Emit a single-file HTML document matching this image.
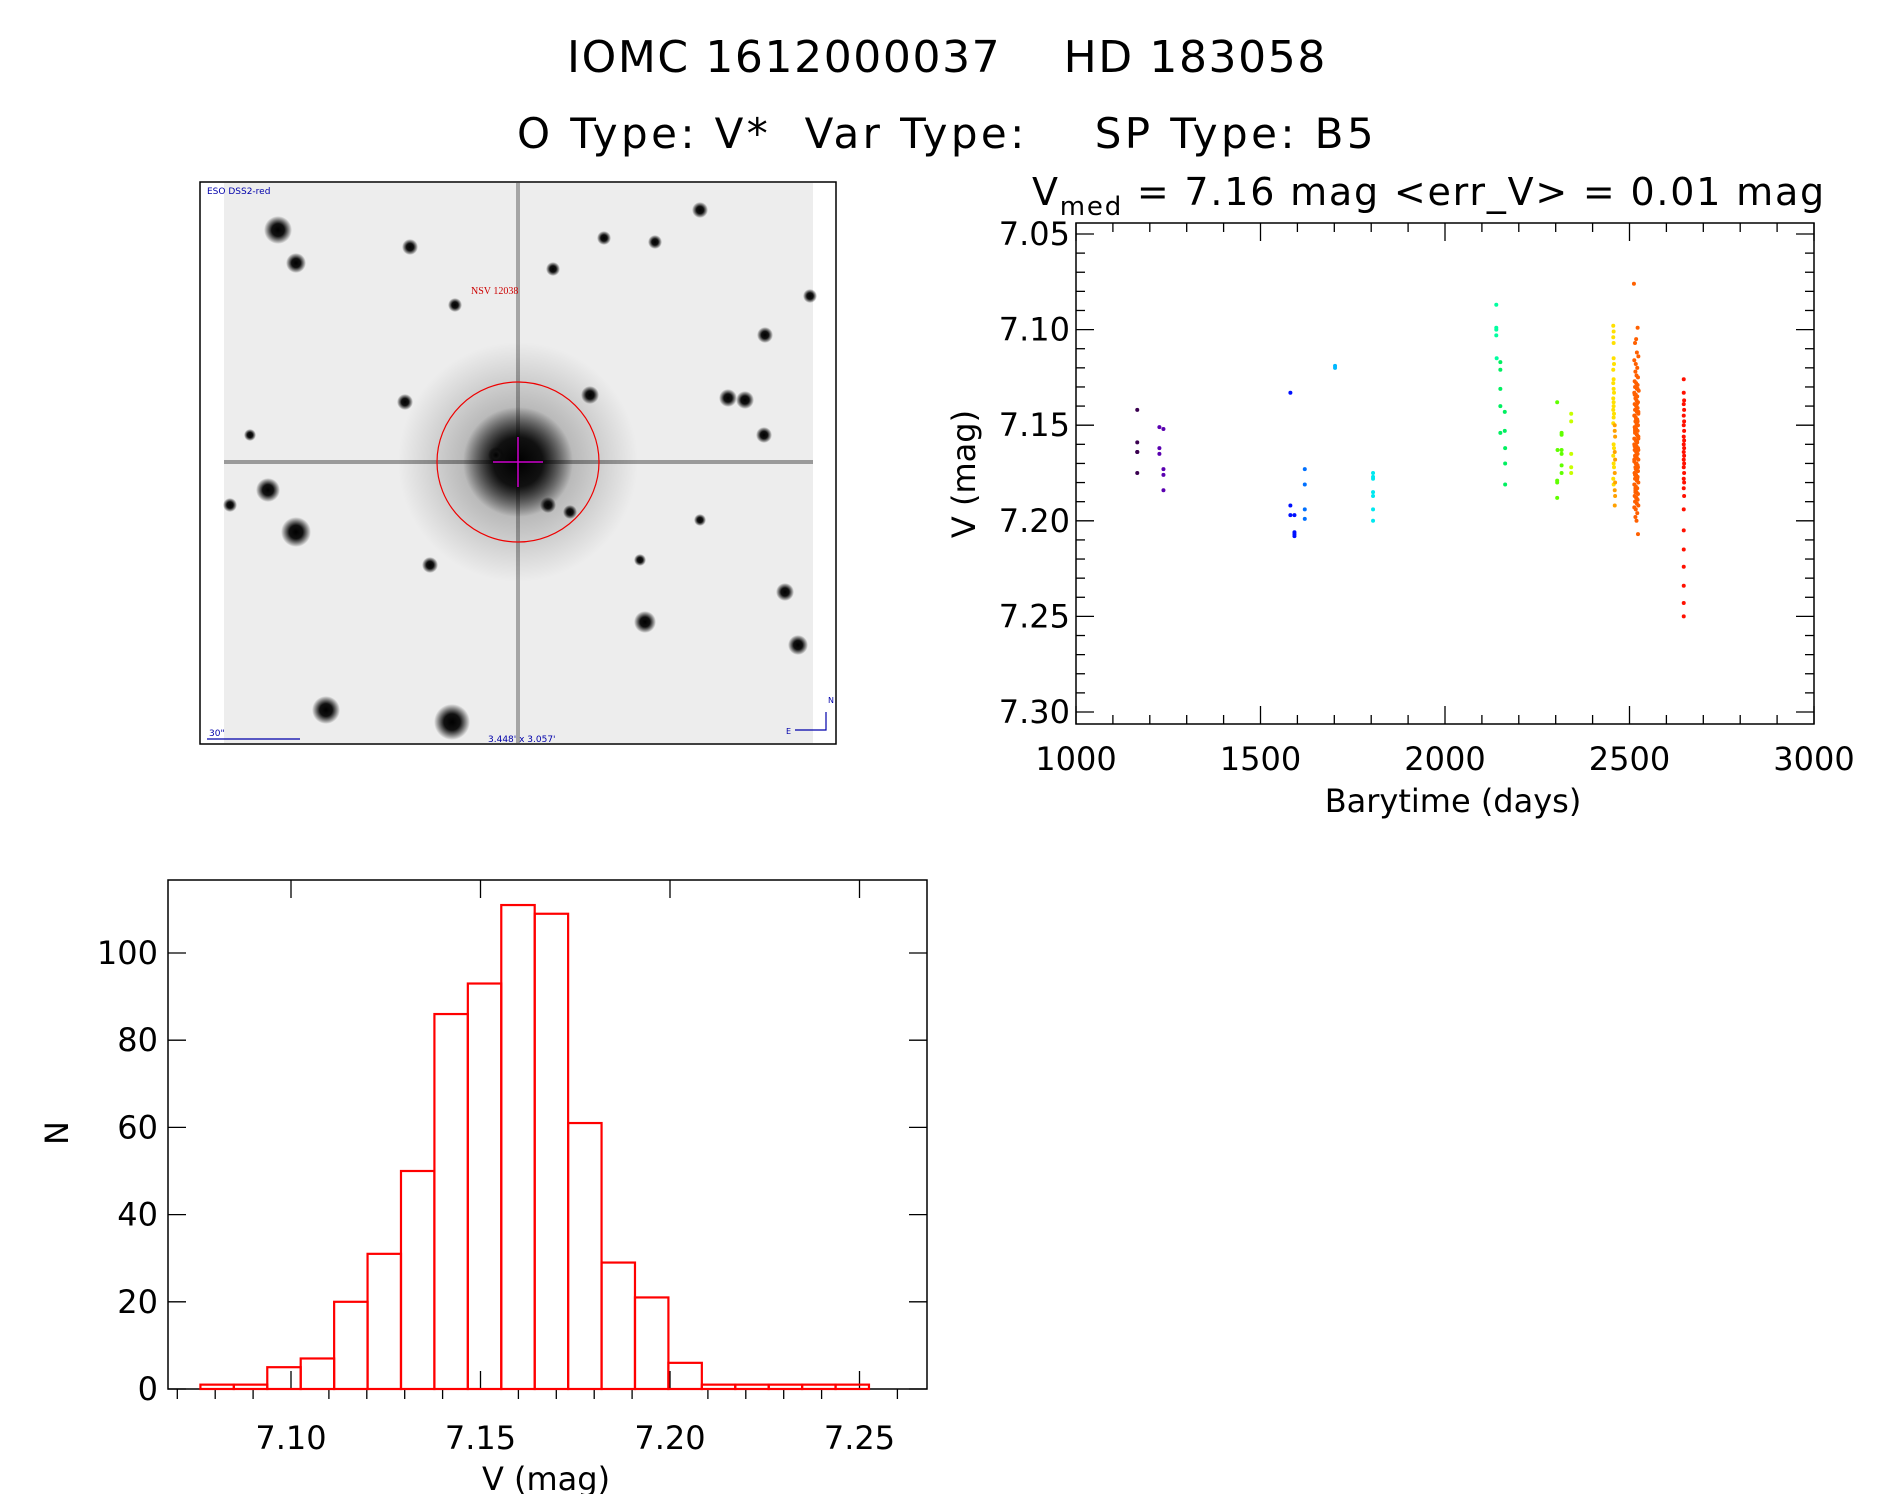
<!DOCTYPE html>
<html><head><meta charset="utf-8"><style>
body{margin:0;background:#fff;}
svg{display:block;font-family:"DejaVu Sans","Liberation Sans",sans-serif;}
</style></head><body>
<svg id="s" width="1889" height="1494" viewBox="0 0 1889 1494">
<defs>
<radialGradient id="star"><stop offset="0" stop-color="#000"/><stop offset="0.45" stop-color="#111"/><stop offset="1" stop-color="#000" stop-opacity="0"/></radialGradient>
<radialGradient id="halo"><stop offset="0" stop-color="#000" stop-opacity="0.4"/><stop offset="1" stop-color="#000" stop-opacity="0"/></radialGradient>
</defs>
<text x="947" y="72" font-size="44" text-anchor="middle" letter-spacing="1.6" xml:space="preserve">IOMC 1612000037    HD 183058</text>
<text x="947" y="148" font-size="42" text-anchor="middle" letter-spacing="3.4" xml:space="preserve">O Type: V*  Var Type:    SP Type: B5</text>
<text x="1032" y="205" font-size="38" letter-spacing="1.8" xml:space="preserve">V<tspan font-size="26" dy="10">med</tspan><tspan dy="-10"> = 7.16 mag &lt;err_V&gt; = 0.01 mag</tspan></text>

<g>
<rect x="200" y="182" width="636" height="562" fill="#fff" stroke="#000" stroke-width="1.5"/>
<rect x="224" y="183" width="589" height="560" fill="#ededed"/>
<g id="stars"></g>
<rect x="224" y="460" width="589" height="4" fill="#000" opacity="0.35"/>
<rect x="516" y="183" width="4" height="560" fill="#000" opacity="0.3"/>
<ellipse cx="518" cy="462" rx="81" ry="80" fill="none" stroke="#e00" stroke-width="1.2"/>
<line x1="493" y1="462" x2="543" y2="462" stroke="#c0c" stroke-width="1.5"/>
<line x1="518" y1="437" x2="518" y2="487" stroke="#c0c" stroke-width="1.5"/>
<text x="471" y="294" font-size="10" fill="#c00" font-family="Liberation Serif,serif">NSV 12038</text>
<text x="207" y="194" font-size="9" fill="#00a">ESO DSS2-red</text>
<text x="209" y="736" font-size="9" fill="#00a">30"</text>
<line x1="207" y1="739" x2="300" y2="739" stroke="#00a" stroke-width="1.2"/>
<text x="488" y="742" font-size="9" fill="#00a">3.448' x 3.057'</text>
<path d="M826 712 V730 H795" fill="none" stroke="#00a" stroke-width="1.2"/>
<text x="828" y="703" font-size="8" fill="#00a">N</text><text x="786" y="734" font-size="8" fill="#00a">E</text>
</g>

<g id="scatter"></g>
<g id="hist"></g>
</svg>
<script>
const NS='http://www.w3.org/2000/svg';
function mk(t,a,p){const e=document.createElementNS(NS,t);for(const k in a)e.setAttribute(k,a[k]);p.appendChild(e);return e;}

const starX=[518,278,296,410,553,590,728,745,296,268,326,452,645,764,798,785,765,548,405,455,604,655,496,430,570,700,810,250,230,700,640];
const starY=[462,230,263,247,269,395,398,400,532,490,710,722,622,435,645,592,335,505,402,305,238,242,455,565,512,210,296,435,505,520,560];
const starR=[55,14,10,8,7,9,9,9,15,12,14,18,11,8,10,9,8,8,8,7,7,7,8,8,7,8,7,6,7,6,6];
const sg=document.getElementById('stars');
mk('circle',{cx:518,cy:462,r:120,fill:'url(#halo)'},sg);
for(let i=0;i<starX.length;i++){mk('circle',{cx:starX[i],cy:starY[i],r:starR[i],fill:'url(#star)'},sg);}

const groups=[
 {c:'#3a0050',x:[1166,1166,1166,1166,1166],y:[7.142,7.159,7.164,7.164,7.175]},
 {c:'#5a00b0',x:[1226,1226,1226,1237,1237,1237,1237],y:[7.151,7.162,7.165,7.152,7.173,7.176,7.184]},
 {c:'#0010ff',x:[1581,1581,1581,1592,1592,1592,1592],y:[7.133,7.192,7.197,7.197,7.206,7.208,7.207]},
 {c:'#0070ff',x:[1620,1620,1620,1620],y:[7.173,7.181,7.194,7.199]},
 {c:'#00b8ff',x:[1702,1702],y:[7.119,7.120]},
 {c:'#00e8f0',x:[1805,1805,1805,1805,1805,1805,1805],y:[7.175,7.177,7.178,7.185,7.187,7.194,7.200]},
 {c:'#00ffa0',x:[2139,2139,2139,2139,2140],y:[7.087,7.099,7.100,7.103,7.115]},
 {c:'#00f060',x:[2150,2150,2150,2150,2162,2150,2162,2163,2163,2163],y:[7.117,7.121,7.131,7.140,7.143,7.154,7.153,7.162,7.170,7.181]},
 {c:'#60ff00',x:[2304,2304,2304,2304,2305,2316,2316,2316,2316,2316,2316],y:[7.138,7.179,7.180,7.188,7.163,7.154,7.155,7.163,7.165,7.171,7.175]},
 {c:'#c8ff00',x:[2342,2342,2342,2342,2342],y:[7.144,7.148,7.165,7.172,7.175]},
 {c:'#ffe000',x:[2456,2457,2456,2457,2457,2458,2456,2457,2456,2457,2458,2456,2457,2457,2456,2458,2457,2456,2457,2458,2456,2457,2458,2456,2457],y:[7.098,7.101,7.104,7.107,7.115,7.118,7.121,7.126,7.128,7.131,7.133,7.136,7.138,7.140,7.142,7.144,7.146,7.149,7.160,7.162,7.166,7.170,7.172,7.178,7.181]},
 {c:'#ffa000',x:[2460,2460,2461,2460,2461,2460,2461,2460,2461,2460],y:[7.150,7.153,7.156,7.164,7.168,7.175,7.180,7.184,7.187,7.192]},
 {c:'#ff6000',x:[2512,2522,2518,2515,2520,2524,2513,2517,2521,2516,2519,2523,2514,2518,2522,2515,2520,2525,2513,2517,2521,2516,2519,2523,2514,2518,2522,2515,2520,2524,2513,2517,2521,2516,2519,2523,2514,2518,2522,2515,2520,2524,2513,2517,2521,2516,2519,2523,2514,2518,2522,2515,2520,2524,2513,2517,2521,2516,2519,2523,2514,2518,2522,2515,2520,2524,2513,2517,2521,2516,2519,2523,2514,2518,2522,2515,2520,2524,2513,2517,2521,2516,2519,2523,2514,2518,2522,2515,2520,2524,2513,2517,2521,2516,2519,2523,2514,2518,2522,2515,2520,2524,2513,2517,2521,2516,2519,2523,2514,2518,2522,2515,2520,2524,2516,2519,2514,2522],
 y:[7.076,7.099,7.105,7.107,7.112,7.114,7.116,7.118,7.120,7.122,7.124,7.125,7.127,7.128,7.129,7.130,7.131,7.132,7.133,7.134,7.135,7.136,7.137,7.138,7.139,7.140,7.141,7.142,7.143,7.144,7.145,7.146,7.147,7.148,7.149,7.150,7.151,7.152,7.153,7.154,7.155,7.156,7.157,7.158,7.159,7.160,7.161,7.162,7.163,7.164,7.165,7.166,7.167,7.168,7.169,7.170,7.171,7.172,7.173,7.174,7.175,7.176,7.177,7.178,7.179,7.180,7.181,7.182,7.183,7.184,7.185,7.186,7.187,7.188,7.189,7.190,7.191,7.192,7.193,7.194,7.196,7.198,7.200,7.207,7.145,7.147,7.150,7.152,7.155,7.157,7.160,7.162,7.165,7.167,7.170,7.172,7.175,7.177,7.148,7.153,7.158,7.163,7.168,7.173,7.178,7.183,7.150,7.156,7.161,7.166,7.171,7.176,7.139,7.143,7.185,7.188,7.134,7.131]},
 {c:'#ff1000',x:[2647,2647,2648,2647,2648,2647,2648,2647,2648,2647,2648,2647,2648,2647,2648,2647,2648,2647,2648,2647,2648,2647,2648,2647,2647,2647,2647,2647,2647,2647],
 y:[7.126,7.133,7.137,7.139,7.142,7.145,7.148,7.150,7.153,7.156,7.158,7.160,7.162,7.164,7.166,7.168,7.170,7.172,7.175,7.178,7.180,7.183,7.187,7.194,7.205,7.215,7.224,7.234,7.243,7.250]}
];
const xTicks=[1000,1500,2000,2500,3000];
const yTicks=[7.05,7.10,7.15,7.20,7.25,7.30];
const yTickLabels=['7.05','7.10','7.15','7.20','7.25','7.30'];

const P={l:1076,r:1814,t:223,b:724};
const xs=d=>P.l+(d-1000)/2000*(P.r-P.l);
const ys=v=>234+(v-7.05)/0.25*(712-234);
const sc=document.getElementById('scatter');
mk('rect',{x:P.l,y:P.t,width:P.r-P.l,height:P.b-P.t,fill:'none',stroke:'#000','stroke-width':1.5},sc);
for(let d=1000;d<=3000;d+=100){const maj=d%500===0;const L=maj?18:9;
 mk('line',{x1:xs(d),y1:P.b,x2:xs(d),y2:P.b-L,stroke:'#000','stroke-width':1.3},sc);
 mk('line',{x1:xs(d),y1:P.t,x2:xs(d),y2:P.t+L,stroke:'#000','stroke-width':1.3},sc);}
for(let i=0;i<=25;i++){const v=7.05+i*0.01;const maj=i%5===0;const L=maj?18:9;
 mk('line',{x1:P.l,y1:ys(v),x2:P.l+L,y2:ys(v),stroke:'#000','stroke-width':1.3},sc);
 mk('line',{x1:P.r,y1:ys(v),x2:P.r-L,y2:ys(v),stroke:'#000','stroke-width':1.3},sc);}
xTicks.forEach(d=>{const t=mk('text',{x:xs(d),y:770,'font-size':32,'text-anchor':'middle'},sc);t.textContent=String(d);
 
 });
yTicks.forEach((v,i)=>{const t=mk('text',{x:1070,y:ys(v)+11,'font-size':32,'text-anchor':'end'},sc);t.textContent=yTickLabels[i];
 
 });
let t=mk('text',{x:1453,y:812,'font-size':32,'text-anchor':'middle'},sc);t.textContent='Barytime (days)';


t=mk('text',{x:975,y:474,'font-size':32,'text-anchor':'middle',transform:'rotate(-90 975 474)'},sc);t.textContent='V (mag)';


groups.forEach(g=>{for(let i=0;i<g.x.length;i++){const c=mk('circle',{cx:xs(g.x[i]),cy:ys(g.y[i]),r:2,fill:g.c},sc);
 
 }});

const binStart=7.0761, binWidth=0.00882;
const counts=[1,1,5,7,20,31,50,86,93,111,109,61,29,21,6,1,1,1,1,1];
const hxTicks=[7.10,7.15,7.20,7.25];
const hxTickLabels=['7.10','7.15','7.20','7.25'];
const hyTicks=[0,20,40,60,80,100];
const H={l:168,r:927,t:880,b:1389};
const hx=v=>291+(v-7.10)/0.05*(480.5-291);
const hy=n=>1389-n/100*(1389-953);
const hg=document.getElementById('hist');
mk('rect',{x:H.l,y:H.t,width:H.r-H.l,height:H.b-H.t,fill:'none',stroke:'#000','stroke-width':1.5},hg);
for(let i=-3;i<=17;i++){const v=7.10+i*0.01;const maj=i%5===0;const X=hx(v);if(X<H.l||X>H.r)continue;
 mk('line',{x1:X,y1:H.b,x2:X,y2:H.b+(maj?0:10),stroke:'#000','stroke-width':1.3},hg);
 if(maj){mk('line',{x1:X,y1:H.t,x2:X,y2:H.t+18,stroke:'#000','stroke-width':1.3},hg);
 mk('line',{x1:X,y1:H.b,x2:X,y2:H.b-18,stroke:'#000','stroke-width':1.3},hg);}}
hyTicks.forEach(n=>{mk('line',{x1:H.l,y1:hy(n),x2:H.l+18,y2:hy(n),stroke:'#000','stroke-width':1.3},hg);
 mk('line',{x1:H.r,y1:hy(n),x2:H.r-18,y2:hy(n),stroke:'#000','stroke-width':1.3},hg);
 const tt=mk('text',{x:158,y:hy(n)+11,'font-size':32,'text-anchor':'end'},hg);tt.textContent=String(n);
 
 });
hxTicks.forEach((v,i)=>{const tt=mk('text',{x:hx(v),y:1449,'font-size':32,'text-anchor':'middle'},hg);tt.textContent=hxTickLabels[i];
 
 });
t=mk('text',{x:546,y:1490,'font-size':32,'text-anchor':'middle'},hg);t.textContent='V (mag)';


t=mk('text',{x:68,y:1133,'font-size':32,'text-anchor':'middle',transform:'rotate(-90 68 1133)'},hg);t.textContent='N';


counts.forEach((n,i)=>{const x0=hx(binStart+i*binWidth),x1=hx(binStart+(i+1)*binWidth);
 const r=mk('rect',{x:x0,y:hy(n),width:x1-x0,height:hy(0)-hy(n),fill:'none',stroke:'#f00','stroke-width':2.2},hg);
 
 });
</script>
</body></html>
